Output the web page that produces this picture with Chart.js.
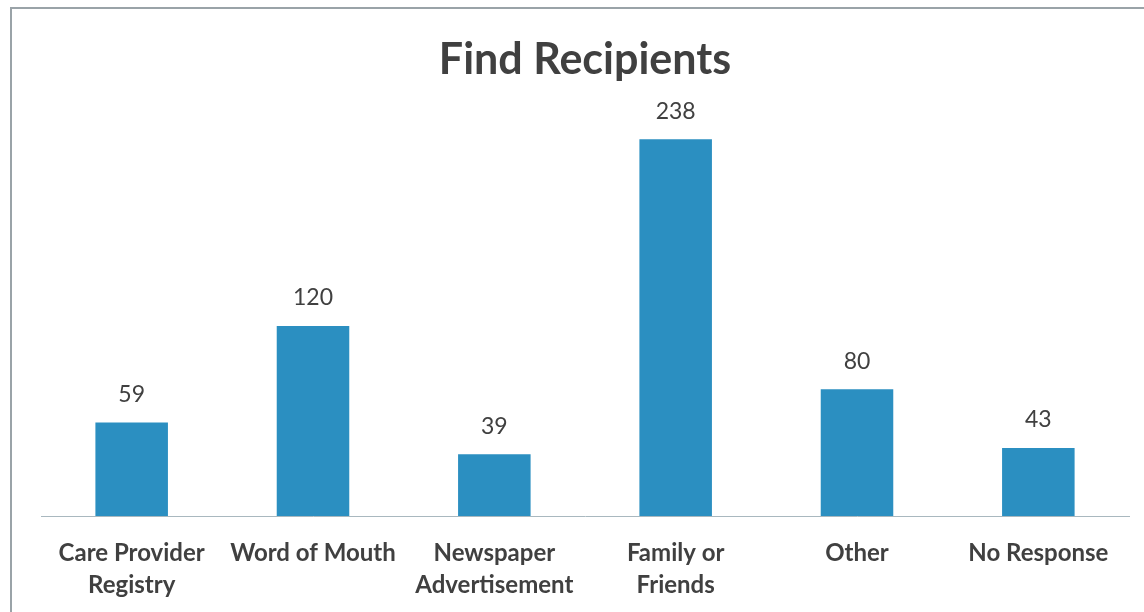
<!DOCTYPE html>
<html>
<head>
<meta charset="utf-8">
<script src="https://cdn.jsdelivr.net/npm/chart.js@4/dist/chart.umd.min.js"></script>
<style>
  body { margin: 0; background: #fff; overflow: hidden; }
  #wrap { position: relative; width: 1144px; height: 612px; }
  #frame { position: absolute; left: 10px; top: 7px; width: 1200px; height: 700px;
           border: 2px solid #9aa3a8; box-sizing: border-box; }
  #recipChart { position: absolute; left: 0; top: 0; }
</style>
</head>
<body>
<div id="wrap">
  <div id="frame"></div>
  <canvas id="recipChart" width="1144" height="612"></canvas>
</div>
<script>
// Where people found their recipients
var sources = [["Care Provider", "Registry"], "Word of Mouth", ["Newspaper", "Advertisement"],
               ["Family or", "Friends"], "Other", "No Response"];
var counts = [59, 120, 39, 238, 80, 43];

var textColor = "#404040";

// writes the count above each bar
var barValues = {
  id: "barValues",
  afterDatasetsDraw: function(chart) {
    var ctx = chart.ctx;
    var meta = chart.getDatasetMeta(0);
    ctx.save();
    ctx.font = "23px Lato";
    ctx.fillStyle = textColor;
    ctx.textAlign = "center";
    ctx.textBaseline = "middle";
    meta.data.forEach(function(bar, i) {
      ctx.fillText(counts[i], bar.x, bar.y - 28);
    });
    ctx.restore();
  }
};

var ctx = document.getElementById("recipChart");
var myChart = new Chart(ctx, {
  type: 'bar',
  data: {
    labels: sources,
    datasets: [
      {
        data: counts,
        backgroundColor: "#2b8fc1",
        barPercentage: 0.4,
        categoryPercentage: 1
      }
    ]
  },
  options: {
    responsive: false,
    animation: false,
    layout: { padding: { left: 41, right: 15, top: 10, bottom: 0 } },
    plugins: {
      legend: { display: false },
      tooltip: { enabled: false },
      title: {
        display: true,
        text: "Find Recipients",
        color: textColor,
        font: { family: "Lato", size: 43, weight: "bold" },
        padding: { top: 24, bottom: 14 }
      }
    },
    scales: {
      x: {
        grid: { display: false },
        border: { color: "#a9b8bf", width: 1 },
        ticks: {
          color: textColor,
          font: { family: "Lato", size: 24, weight: "bold", lineHeight: "32px" },
          padding: 13,
          maxRotation: 0,
          autoSkip: false
        },
        afterFit: function(scale) {
          scale.height = 96;
        }
      },
      y: {
        display: false,
        min: 0,
        max: 263
      }
    }
  },
  plugins: [barValues]
});
</script>
</body>
</html>
